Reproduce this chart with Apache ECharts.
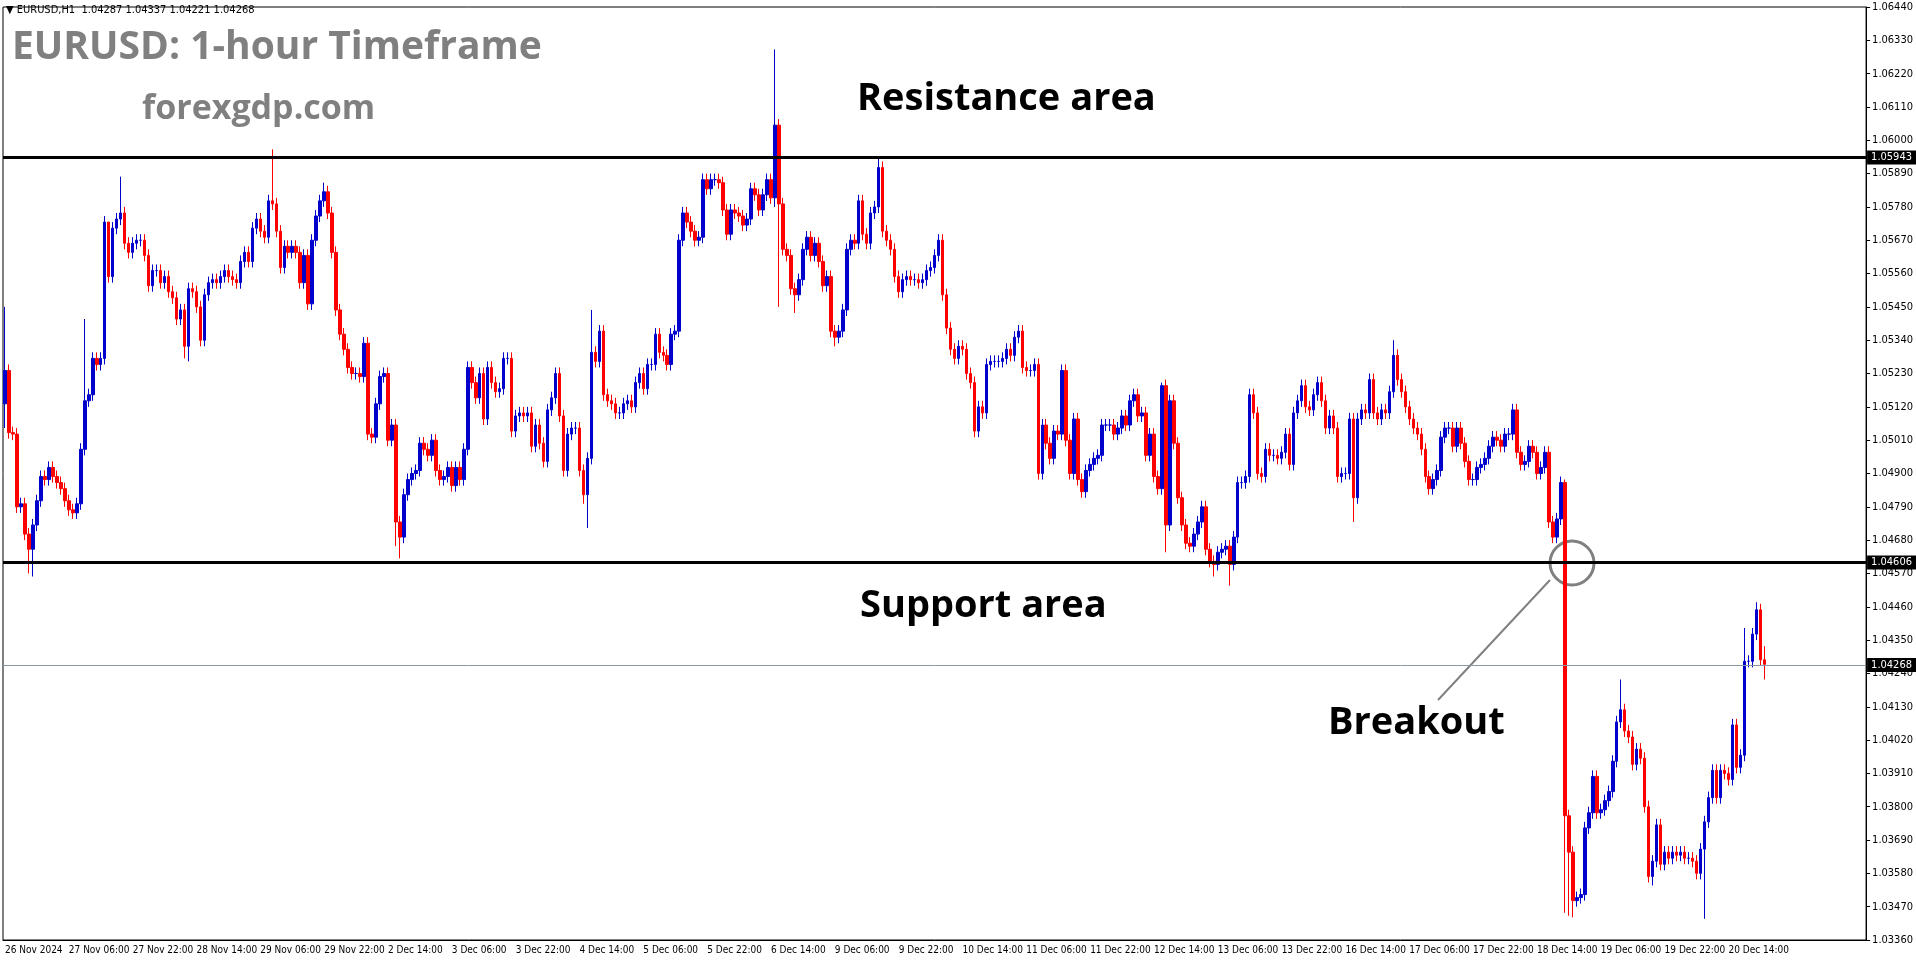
<!DOCTYPE html>
<html><head><meta charset="utf-8">
<script src="https://cdn.jsdelivr.net/npm/echarts@6/dist/echarts.min.js"></script>
<style>html,body{margin:0;padding:0;background:#fff}#c{width:1916px;height:964px}</style>
</head><body><div id="c"></div>
<script>
// Hourly closes, in pips above 1.0000 (e.g. 524 = 1.0524)
const closes = [
524,503.5,503,479,480,470,465,473,481,489,488,492,489,487,485,481,478,477,480,498,
514,516,528,526,528,573,555,571,574,576,566,563,566,567,567,562,552,557,557,553,
555,550,548,541,544,532,551,550,545,534,549,553,554,553,555,557,555,554,553,560,
563,560,571,574,570,568,580,579,570,558,565,563,565,563,553,562,546,567,575,580,
583,576,563,544,536,531,525,523,523,522,533,503,502,513,522,523,501,506,474,469,
483,488,490,491,500,498,496,501,491,488,489,492,486,492,488,498,525,520,515,523,
508,525,520,517,518,528,528,504,509,510,509,510,499,506,500,494,511,515,523,509,
491,503,505,505,491,483,495,530,527,537,516,514,513,510,510,513,514,512,520,523,
518,526,526,536,530,529,526,536,537,567,576,573,570,567,568,587,584,587,587,586,
577,569,577,576,575,572,574,584,582,577,582,587,581,605,579,564,562,551,549,554,
564,568,562,566,560,552,555,537,535,537,544,564,567,566,580,569,566,576,578,591,
570,567,564,555,550,554,555,554,554,553,554,557,558,562,567,549,538,531,528,532,
531,523,520,504,512,510,526,527,527,527,528,531,529,535,537,525,524,524,526,490,
506,500,495,504,503,524,501,490,508,488,484,491,493,495,496,506,506,506,503,505,
509,506,514,516,509,510,496,503,489,485,519,473,514,500,482,473,467,466,470,474,
479,465,461,460,464,465,466,460,469,487,487,489,516,510,490,489,498,496,496,495,
497,503,493,510,514,519,512,511,516,520,514,505,509,505,489,490,490,508,482,508,
511,510,521,510,508,511,510,517,529,521,517,512,
508,505,503,498,489,485,488,491,502,505,505,499,505,500,494,488,488,492,493,495,
499,502,501,499,503,503,511,497,493,494,499,497,490,492,497,474,469,475,487,
377,365,349,350,351,373,378,390,378,379,382,385,395,408,412,405,403,394,399,396,
380,357,362,374,361,365,363,365,364,365,363,363,362,358,366,375,383,392,383,392,
391,389,407,393,397,428,428,437,445,428.5,427
];
const firstOpen = 513;
// Notable wick extremes: index -> [low, high] in pips
const wickExtremes = {
0:[505,545],6:[457,null],7:[456,null],20:[null,541],26:[null,568],29:[null,588],
45:[528,null],46:[527,null],67:[null,597],80:[null,586],98:[466,null],99:[462,null],
145:[480,null],146:[472,null],147:[null,544],193:[578,630],194:[545,607],198:[543,null],
208:[532,null],219:[null,594],290:[null,520],291:[464,null],303:[456,null],307:[453,null],
338:[474,null],348:[null,534],391:[345,488],392:[344,null],393:[343.5,null],405:[null,422],
412:[355,null],413:[354,null],426:[343,null],436:[null,439],439:[null,447.5],440:[null,447],
441:[422,433]
};
const defaultWick = 2;
const totalSlots = 467;
const lastLabelIndex = 432;
const resistance = 1.05943, support = 1.04606, lastPrice = 1.04268;

// hourly categories skipping weekends, starting 26 Nov 2024 14:00
const months=['Jan','Feb','Mar','Apr','May','Jun','Jul','Aug','Sep','Oct','Nov','Dec'];
const cats=[];
let t=Date.UTC(2024,10,26,14);
while(cats.length<totalSlots){
  const d=new Date(t);
  const wd=d.getUTCDay();
  if(wd!==0&&wd!==6){
    cats.push(cats.length===0?'26 Nov 2024':d.getUTCDate()+' '+months[d.getUTCMonth()]+' '+String(d.getUTCHours()).padStart(2,'0')+':00');
  }
  t+=3600000;
}
const P=p=>+(1+p/10000).toFixed(5);
const ohlc=closes.map((c,i)=>{
  const o=i===0?firstOpen:closes[i-1];
  const ex=wickExtremes[i]||[null,null];
  const lo=ex[0]!=null?ex[0]:Math.min(o,c)-defaultWick;
  const hi=ex[1]!=null?ex[1]:Math.max(o,c)+defaultWick;
  return [P(o),P(c),P(lo),P(hi)];
});

const chart=echarts.init(document.getElementById('c'));
const lbl=(v)=>({show:true,position:'end',formatter:v.toFixed(5),color:'#fff',backgroundColor:'#000',padding:[2,4,1,4],fontSize:11,fontFamily:'DejaVu Sans Condensed',distance:1});
const showTick=i=>i%16===0&&i<=lastLabelIndex;
chart.setOption({
  animation:false,
  grid:{left:3,right:46,top:7,bottom:24,show:true,borderColor:'#000',borderWidth:1},
  xAxis:{type:'category',data:cats,boundaryGap:true,
    axisLine:{lineStyle:{color:'#000'}},
    axisTick:{interval:showTick,length:4,lineStyle:{color:'#000'}},
    axisLabel:{interval:showTick,align:'left',margin:5,fontSize:10,color:'#000',fontFamily:'DejaVu Sans Condensed',hideOverlap:false},
    splitLine:{show:false}},
  yAxis:{type:'value',position:'right',min:1.0336,max:1.0644,interval:0.0011,
    axisLine:{show:true,lineStyle:{color:'#000'}},
    axisTick:{show:true,length:4,lineStyle:{color:'#000'}},
    axisLabel:{formatter:v=>v.toFixed(5),fontSize:11,color:'#000',margin:6,fontFamily:'DejaVu Sans Condensed'},
    splitLine:{show:false}},
  series:[
    {type:'candlestick',data:ohlc,barWidth:3,
    itemStyle:{color:'#0000cd',color0:'#ff0000',borderColor:'#0000cd',borderColor0:'#ff0000',borderWidth:1},
    markLine:{symbol:'none',silent:true,precision:5,
      data:[
        {yAxis:resistance,lineStyle:{color:'#000',width:3,type:'solid'},label:lbl(resistance)},
        {yAxis:support,lineStyle:{color:'#000',width:3,type:'solid'},label:lbl(support)},
        {yAxis:lastPrice,lineStyle:{color:'#8a97a4',width:1,type:'solid'},label:lbl(lastPrice)}
      ]}}
  ],
  graphic:[
    {type:'text',left:6,top:5,style:{text:'▼ EURUSD,H1  1.04287 1.04337 1.04221 1.04268',fontSize:11,fill:'#000',fontFamily:'DejaVu Sans Condensed'}},
    {type:'text',left:12,top:28,style:{text:'EURUSD: 1-hour Timeframe',fontSize:39,fontWeight:'bold',fill:'#808080',fontFamily:'Open Sans'}},
    {type:'text',left:142,top:92,style:{text:'forexgdp.com',fontSize:34,fontWeight:'bold',fill:'#808080',fontFamily:'Open Sans'}},
    {type:'text',left:857,top:80,style:{text:'Resistance area',fontSize:38,fontWeight:'bold',fill:'#000',fontFamily:'Open Sans'}},
    {type:'text',left:860,top:587,style:{text:'Support area',fontSize:38,fontWeight:'bold',fill:'#000',fontFamily:'Open Sans'}},
    {type:'text',left:1328,top:704,style:{text:'Breakout',fontSize:38,fontWeight:'bold',fill:'#000',fontFamily:'Open Sans'}},
    {type:'circle',shape:{cx:1572,cy:563,r:22},style:{fill:'none',stroke:'#808080',lineWidth:3}},
    {type:'line',shape:{x1:1550,y1:580,x2:1438,y2:700},style:{stroke:'#808080',lineWidth:2}}
  ]
});
</script></body></html>
